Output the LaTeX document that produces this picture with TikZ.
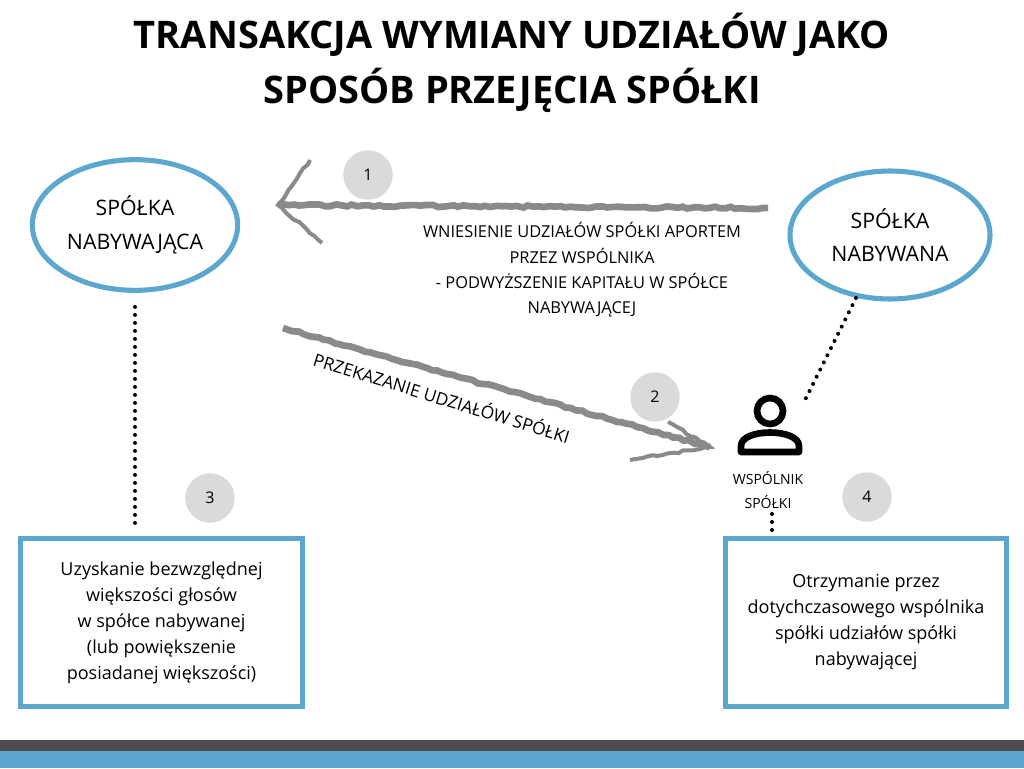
\documentclass[tikz,border=0pt]{standalone}
\usepackage{fontspec}
\setmainfont{Open Sans}
\usetikzlibrary{shapes.geometric,decorations.pathmorphing}
\definecolor{ramka}{HTML}{5BA7CD}
\definecolor{szary}{HTML}{8A8A8A}
\definecolor{kolko}{HTML}{DADADA}
\begin{document}
\begin{tikzpicture}[x=0.75pt,y=-0.75pt,
	owal/.style={ellipse,draw=ramka,line width=3.8pt,align=center,font=\fontsize{16}{25}\selectfont,inner sep=0pt},
	skrzynka/.style={draw=ramka,line width=3.8pt,align=center,font=\fontsize{13.5}{19.5}\selectfont,inner sep=0pt},
	numer/.style={circle,fill=kolko,minimum size=37pt,inner sep=0pt,font=\fontsize{12}{14}\selectfont},
	strzala/.style={szary,line width=5pt,decorate,decoration={random steps,segment length=4pt,amplitude=0.8pt}},
	kropki/.style={line width=3pt,dash pattern=on 0pt off 6pt,line cap=round},
	opis/.style={font=\fontsize{12.3}{19}\selectfont,align=center}]
	\useasboundingbox (0,0) rectangle (1024,768);
	\fill[white] (0,0) rectangle (1024,768);
	\fill[black!70] (0,740) rectangle (1024,751);
	\fill[ramka] (0,751) rectangle (1024,768);
	% tytul
	\node[font=\bfseries\fontsize{28.5}{41}\selectfont,align=center] (tytul) at (512,63)
		{TRANSAKCJA WYMIANY UDZIAŁÓW JAKO\\SPOSÓB PRZEJĘCIA SPÓŁKI};
	% spolki
	\node[owal,minimum width=154pt,minimum height=98pt] (nabywajaca) at (135,225) {SPÓŁKA\\NABYWAJĄCA};
	\node[owal,minimum width=150pt,minimum height=96pt] (nabywana) at (890,235) {SPÓŁKA\\NABYWANA};
	% numery
	\node[numer] (n1) at (368,175) {1};
	\node[numer] (n2) at (655,397) {2};
	\node[numer] (n3) at (210,498) {3};
	\node[numer] (n4) at (867,497) {4};
	% strzalka 1
	\coordinate (s1a) at (768,208);
	\coordinate (s1b) at (278,205);
	\draw[strzala] (s1a) -- (s1b);
	\draw[strzala,line width=3pt] (310,160) -- (s1b) -- (322,243);
	\node[opis] (wniesienie) at (582,270) {WNIESIENIE UDZIAŁÓW SPÓŁKI APORTEM\\PRZEZ WSPÓLNIKA\\- PODWYŻSZENIE KAPITAŁU W SPÓŁCE\\NABYWAJĄCEJ};
	% strzalka 2
	\coordinate (s2a) at (283,328);
	\coordinate (s2b) at (710,447);
	\draw[strzala] (s2a) -- (s2b);
	\draw[strzala,line width=3pt] (668,422) -- (s2b) -- (630,460);
	\node[opis,font=\fontsize{13}{19}\selectfont,rotate=-17] (przekazanie) at (442,397) {PRZEKAZANIE UDZIAŁÓW SPÓŁKI};
	% wspolnik
	\draw[line width=5pt] (770,411) circle (13);
	\draw[line width=5pt,line join=round] (741,452) -- (741,446) .. controls (741,428) and (799,428) .. (799,446) -- (799,452) -- cycle;
	\node[font=\fontsize{10.5}{18}\selectfont,align=center] (wspolnik) at (768,490) {WSPÓLNIK\\SPÓŁKI};
	% ramki
	\node[skrzynka,minimum width=211pt,minimum height=126pt] (uzyskanie) at (161.5,622.5)
		{Uzyskanie bezwzględnej\\większości głosów\\w spółce nabywanej\\(lub powiększenie\\posiadanej większości)};
	\node[skrzynka,minimum width=211pt,minimum height=126pt] (otrzymanie) at (866,622.5)
		{Otrzymanie przez\\dotychczasowego wspólnika\\spółki udziałów spółki\\nabywającej};
	% kropki
	\coordinate (k1) at (135,530);
	\draw[kropki] (nabywajaca.south) ++(0,14) -- (k1);
	\draw[kropki] (856,298) -- (805,400);
	\coordinate (k2) at (772,535);
	\draw[kropki] (772,514) -- (k2);
\end{tikzpicture}
\end{document}
